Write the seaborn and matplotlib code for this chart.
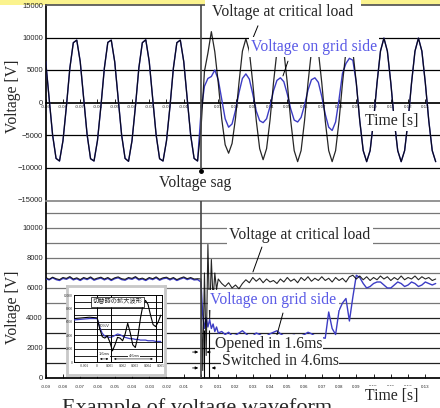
import numpy as np
import pandas as pd
import seaborn as sns
import matplotlib.pyplot as plt
from matplotlib.patches import Rectangle

sns.set_theme(style='white')
plt.rcParams['font.family'] = ['Liberation Serif', 'Noto Sans CJK JP', 'DejaVu Sans']

###################
# data (read off) #
###################
# instantaneous waveform, sampled every 2 ms
t_inst = np.round(np.arange(-0.090, 0.1365, 0.002), 4)

load_inst_pre = [6300, 600, -5000, -8600, -9000, -5900, -600, 5300, 9200, 9600,
                 6300, 650, -4950, -8650, -9000, -5850, -550, 5300, 9250, 9600,
                 6250, 600, -5000, -8600, -9050, -5900, -600, 5350, 9200, 9650,
                 6300, 600, -5000, -8650, -9000, -5900, -650, 5300, 9200, 9600,
                 6300, 600, -5000, -8600, -9000]
load_inst_post = [-4000, 4800, 7600, 10900, 7800, 3000, -2500, -6500, -7800, -6300,
                  -2400, 3000, 7900, 9800, 7900, 3000, -2700, -7100, -8800, -7100,
                  -2700, 3000, 7900, 9800, 7900, 3000, -2800, -7400, -9100, -7400,
                  -2800, 3000, 7900, 9800, 7900, 3000, -2800, -7400, -9100, -7400,
                  -2800, 3000, 7900, 9800, 7900, 3000, -2800, -7400, -9100, -7400,
                  -2800, 3000, 7900, 9900, 7900, 3000, -2800, -7400, -9100, -7400,
                  -2800, 3000, 7900, 9900, 7900, 3000, -2800, -7400, -9100]
grid_inst_post = [-1500, 2500, 3700, 4000, 5000, 3500, 500, -2500, -3800, -3300,
                  -1200, 1500, 3700, 4400, 3600, 1300, -1300, -2800, -3100, -2500,
                  -600, 1800, 3400, 3800, 3200, 1300, -1000, -2700, -3000, -2300,
                  -400, 1900, 3500, 3800, 3100, 900, -1800, -3800, -4300, -3000,
                  500, 4500, 6000, 6800, 6500, 3000, -2800, -7400, -9100, -7400,
                  -2800, 3000, 7900, 9900, 7900, 3000, -2800, -7400, -9100, -7400,
                  -2800, 3000, 7900, 9900, 7900, 3000, -2800, -7400, -9100]
load_inst = load_inst_pre + load_inst_post
grid_inst = load_inst_pre + grid_inst_post

# rms waveform: 2 ms before the sag, 1 ms through the transient, 2 ms after
t_rms = np.round(np.concatenate([np.arange(-0.090, -0.001, 0.002),
                                 np.arange(0.0, 0.0105, 0.001),
                                 np.arange(0.012, 0.1365, 0.002)]), 4)
load_rms = [6700, 6580, 6720, 6620, 6560, 6700, 6640, 6760, 6600, 6680,
            6560, 6700, 6620, 6740, 6580, 6660, 6720, 6600, 6700, 6560,
            6680, 6740, 6620, 6580, 6700, 6640, 6760, 6600, 6660, 6560,
            6700, 6620, 6740, 6580, 6680, 6720, 6600, 6700, 6560, 6660,
            6740, 6620, 6700, 6600, 6620,
            6600, 500, 7000, 1500, 8900, 4000, 7900, 5200, 7000, 5900, 6600,
            6300, 6100, 6350, 6000, 6200, 5950, 6300, 6550, 6350, 6700,
            6450, 6650, 6350, 6600, 6400, 6500, 6300, 6600, 6400, 6700,
            6450, 6600, 6350, 6700, 6500, 6750, 6450, 6650, 6500, 6750,
            6500, 6650, 6400, 6700, 6500, 6650, 6400, 6750, 6850, 6600,
            6800, 6550, 6750, 6500, 6700, 6550, 6800, 6600, 6750, 6500,
            6700, 6550, 6800, 6550, 6700, 6600, 6800, 6550, 6750, 6600,
            6700, 6500, 6600]
grid_rms = [6620, 6540, 6680, 6560, 6500, 6640, 6580, 6700, 6540, 6620,
            6500, 6640, 6560, 6680, 6520, 6600, 6660, 6540, 6640, 6500,
            6620, 6680, 6560, 6520, 6640, 6580, 6700, 6540, 6600, 6500,
            6640, 6560, 6680, 6520, 6620, 6660, 6540, 6640, 6500, 6600,
            6680, 6560, 6640, 6540, 6560,
            6400, 4200, 3300, 4000, 3400, 3900, 3300, 3600, 3100, 3400, 3000,
            3100, 2900, 3050, 2800, 2850, 3000, 3150, 2950, 2750, 2800,
            3000, 2900, 2750, 2800, 2950, 3050, 3150, 2950, 2800, 2750,
            2800, 2850, 2750, 2800, 2900, 3050, 2950, 2800, 2700, 2700,
            2650, 4400, 3300, 2900, 4500, 5000, 5300, 3800, 5400, 6850,
            6700, 6300, 6000, 6100, 6300, 6400, 6400, 6200, 6000, 6000,
            6200, 6400, 6300, 6100, 6200, 6400, 6300, 6100, 6200, 6400,
            6300, 6200, 6300]

# zoomed inset (switching moment)
t_zoom = [-0.0018, -0.0012, -0.0006, 0.0, 0.0002, 0.0004, 0.0006, 0.0008, 0.0010,
          0.0012, 0.0014, 0.0016, 0.0018, 0.0020, 0.0022, 0.0024, 0.0026, 0.0028,
          0.0030, 0.0032, 0.0034, 0.0036, 0.0038, 0.0040, 0.0042, 0.0044, 0.0046,
          0.0048, 0.0050]
load_zoom = [6500, 6600, 6700, 6600, 5000, 3800, 3600, 3900, 3000,
             1700, 2600, 3700, 3600, 3200, 4200, 5800, 4400, 2600,
             2200, 3800, 6500, 8500, 9200, 8600, 7000, 5600, 5300,
             6000, 7000]
grid_zoom = [6300, 6400, 6500, 6500, 5200, 4300, 3900, 3800, 3700,
             3800, 4000, 4200, 4100, 3900, 3700, 3600, 3500, 3500,
             3400, 3400, 3300, 3300, 3300, 3200, 3200, 3200, 3100,
             3100, 3100]

ticks = np.round(np.arange(-0.09, 0.135, 0.01), 2)
tick_labels = ['0' if abs(v) < 1e-9 else '%.2f' % v for v in ticks]

BLUE = '#3c3cc4'
TXT_BLUE = '#5a5ae6'
SERIF = 11.3

fig = plt.figure(figsize=(4.4, 4.08), dpi=100)
fig.patch.set_facecolor('white')
# yellow strip at the very top (drawn underneath the axes)
fig.patches.append(Rectangle((0, 0.988), 1, 0.012, transform=fig.transFigure,
                             facecolor='#fbf38e', edgecolor='none', zorder=-1))

X0, X1 = -0.09, 0.1385
box = dict(facecolor='white', edgecolor='none', pad=1.5)

############
# top plot #
############
ax1 = fig.add_axes([45.7 / 440, 1 - 200 / 408, 1 - 45.7 / 440, 195 / 408])
ax1.set_facecolor('none')
for v in [-10000, -5000, 5000, 10000]:
    ax1.axhline(v, color='black', lw=0.9, zorder=1)
sns.lineplot(x=t_inst, y=grid_inst, ax=ax1, color=BLUE, lw=1.0, estimator=None, sort=False, zorder=3)
sns.lineplot(x=t_inst, y=load_inst, ax=ax1, color='black', lw=0.9, alpha=0.85,
             estimator=None, sort=False, zorder=4)
ax1.vlines(0, -10600, 15000, color='#444444', lw=1.2, zorder=5)
ax1.plot([0], [-10600], marker='o', ms=2.5, color='black', zorder=6)
ax1.set_xlim(X0, X1)
ax1.set_ylim(-15000, 15000)
ax1.set_yticks(np.arange(-15000, 15001, 5000))
ax1.set_xticks(ticks)
ax1.set_xticklabels(tick_labels)
ax1.spines['bottom'].set_position(('data', 0))
ax1.spines['bottom'].set_color('black')
ax1.spines['left'].set_color('black')
ax1.spines['top'].set_color('#555555')
ax1.spines['right'].set_visible(False)
ax1.tick_params(axis='x', direction='in', length=3, width=0.6, color='black',
                labelsize=3.2, pad=2, bottom=True)
ax1.tick_params(axis='y', length=0, labelsize=5.5, pad=2)
for lab in ax1.get_xticklabels() + ax1.get_yticklabels():
    lab.set_fontfamily('Liberation Sans')
ax1.set_xlabel(None)
ax1.set_ylabel('Voltage [V]', fontsize=SERIF, labelpad=1)
ax1.yaxis.set_label_coords(-0.062, 0.53)

ax1.text(0.0475, 13900, 'Voltage at critical load', fontsize=SERIF, ha='center', va='center',
         bbox=dict(facecolor='white', edgecolor='none', pad=5), zorder=7, clip_on=False)
ax1.plot([0.033, 0.030], [11800, 9850], color='black', lw=0.7, zorder=7)
ax1.text(0.0655, 8500, 'Voltage on grid side', fontsize=SERIF, color=TXT_BLUE, ha='center',
         va='center', bbox=box, zorder=7)
ax1.plot([0.0504, 0.0475], [6360, 4090], color='black', lw=0.7, zorder=7)
ax1.text(0.1107, -2880, 'Time [s]', fontsize=SERIF, ha='center', va='center', bbox=box, zorder=7)
ax1.text(-0.0035, -12420, 'Voltage sag', fontsize=SERIF, ha='center', va='center', zorder=7)

###############
# bottom plot #
###############
ax2 = fig.add_axes([45.7 / 440, 1 - 378 / 408, 1 - 45.7 / 440, 177 / 408])
ax2.set_facecolor('none')
for v in range(1000, 12000, 1000):
    ax2.axhline(v, color='#777777' if v >= 5000 else '#222222', lw=0.9, zorder=1)
sns.lineplot(x=t_rms, y=grid_rms, ax=ax2, color=BLUE, lw=1.0, estimator=None, sort=False, zorder=3)
sns.lineplot(x=t_rms, y=load_rms, ax=ax2, color='black', lw=0.8, alpha=0.85,
             estimator=None, sort=False, zorder=4)
ax2.axvline(0, color='#444444', lw=1.2, zorder=5)
for ts in [0.0016, 0.0046]:
    ax2.vlines(ts, 0, 3200, color='black', lw=0.8, zorder=5)
ax2.set_xlim(X0, X1)
ax2.set_ylim(0, 11800)
ax2.set_yticks(np.arange(0, 10001, 2000))
ax2.set_xticks(ticks)
ax2.set_xticklabels(tick_labels)
ax2.spines['bottom'].set_color('black')
ax2.spines['left'].set_color('black')
ax2.spines['top'].set_color('#888888')
ax2.spines['right'].set_visible(False)
ax2.tick_params(axis='x', direction='in', length=3, width=0.6, color='black',
                labelsize=3.2, pad=5, bottom=True)
ax2.tick_params(axis='y', length=0, labelsize=5.5, pad=2)
for lab in ax2.get_xticklabels() + ax2.get_yticklabels():
    lab.set_fontfamily('Liberation Sans')
ax2.set_xlabel(None)
ax2.set_ylabel('Voltage [V]', fontsize=SERIF, labelpad=1)
ax2.yaxis.set_label_coords(-0.062, 0.40)

ax2.text(0.0574, 9530, 'Voltage at critical load', fontsize=SERIF, ha='center', va='center',
         bbox=box, zorder=7)
ax2.plot([0.0353, 0.0301], [8730, 7070], color='black', lw=0.7, zorder=7)
ax2.text(0.042, 5200, 'Voltage on grid side', fontsize=SERIF, color=TXT_BLUE, ha='center',
         va='center', bbox=box, zorder=7)
ax2.plot([0.0475, 0.0440], [4330, 2870], color='black', lw=0.7, zorder=7)
ax2.text(0.0394, 2270, 'Opened in 1.6ms', fontsize=SERIF, ha='center', va='center',
         bbox=dict(facecolor='white', edgecolor='none', pad=0.5), zorder=7)
ax2.text(0.0458, 1150, 'Switched in 4.6ms', fontsize=SERIF, ha='center', va='center',
         bbox=dict(facecolor='white', edgecolor='none', pad=0.5), zorder=7)
arrow = dict(arrowstyle='-|>', color='black', lw=0.6, mutation_scale=4)
ax2.annotate('', xy=(0, 1730), xytext=(-0.0065, 1730), arrowprops=arrow, zorder=7)
ax2.annotate('', xy=(0.0016, 1730), xytext=(0.0070, 1730), arrowprops=arrow, zorder=7)
ax2.annotate('', xy=(0, 670), xytext=(-0.0065, 670), arrowprops=arrow, zorder=7)
ax2.annotate('', xy=(0.0046, 670), xytext=(0.0100, 670), arrowprops=arrow, zorder=7)
ax2.text(0.1107, -1200, 'Time [s]', fontsize=SERIF, ha='center', va='center', bbox=box,
         zorder=7, clip_on=False)

#########
# inset #
#########
frame = fig.add_axes([67 / 440, 1 - 375 / 408, 98 / 440, 89 / 408])
frame.set_xticks([])
frame.set_yticks([])
frame.set_facecolor('white')
for s in frame.spines.values():
    s.set_color('#c8c8c8')
    s.set_linewidth(2)

ax3 = fig.add_axes([74.3 / 440, 1 - 362.3 / 408, 87.7 / 440, 67.3 / 408])
ax3.set_facecolor('white')
for v in range(1000, 10000, 1000):
    ax3.axhline(v, color='black', lw=0.6, zorder=1)
sns.lineplot(x=t_zoom, y=grid_zoom, ax=ax3, color=BLUE, lw=0.9, estimator=None, sort=False, zorder=3)
sns.lineplot(x=t_zoom, y=load_zoom, ax=ax3, color='black', lw=0.8, estimator=None, sort=False, zorder=4)
for ts in [0.0, 0.0011, 0.0046]:
    ax3.axvline(ts, color='black', lw=0.7, zorder=5)
ax3.set_xlim(-0.0018, 0.0051)
ax3.set_ylim(0, 10000)
ax3.set_yticks(np.arange(0, 10001, 2000))
ax3.set_yticklabels(['0', '2000', '4000', '6000', '8000', '10000'])
ax3.set_xticks([-0.001, 0.0, 0.001, 0.002, 0.003, 0.004, 0.005])
ax3.set_xticklabels(['-0.001', '0', '0.001', '0.002', '0.003', '0.004', '0.005'])
ax3.tick_params(axis='both', length=0, labelsize=2.6, pad=1)
for s in ax3.spines.values():
    s.set_color('black')
    s.set_linewidth(0.7)
ax3.set_xlabel(None)
ax3.set_ylabel(None)
ax3.text(0.0016, 9000, '切替時の拡大波形', fontsize=4.5, ha='center', va='center',
         fontfamily=['Noto Sans CJK JP'],
         bbox=dict(facecolor='white', edgecolor='black', lw=0.5, pad=0.8), zorder=7)
ax3.text(0.0001, 5200, '80%V', fontsize=3, fontfamily='Liberation Sans', zorder=7)
small_arrow = dict(arrowstyle='<|-|>', color='black', lw=0.4, mutation_scale=2.5)
ax3.annotate('', xy=(0.0, 500), xytext=(0.0011, 500), arrowprops=small_arrow)
ax3.annotate('', xy=(0.0011, 500), xytext=(0.0046, 500), arrowprops=small_arrow)
ax3.text(0.00055, 1050, '1.6ms', fontsize=3, ha='center', fontfamily='Liberation Sans',
         bbox=dict(facecolor='white', edgecolor='none', pad=0.2), zorder=7)
ax3.text(0.0029, 800, '4.6ms', fontsize=3, ha='center', fontfamily='Liberation Sans',
         bbox=dict(facecolor='white', edgecolor='none', pad=0.2), zorder=7)

# caption, cut off at the bottom edge of the picture
fig.text(0.14, -0.025, 'Example of voltage waveform', fontsize=16, ha='left', va='bottom')

fig.savefig('out.png', dpi=100)
